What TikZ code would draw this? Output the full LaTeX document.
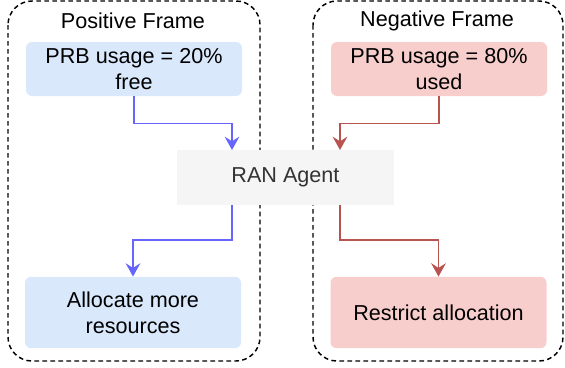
\documentclass[tikz,border=0pt]{standalone}
\usepackage{fontspec}
\setmainfont{Liberation Sans}
\usetikzlibrary{arrows.meta}
\definecolor{posfill}{HTML}{DAE8FC}
\definecolor{negfill}{HTML}{F8CECC}
\definecolor{agentfill}{HTML}{F5F5F5}
\definecolor{agenttext}{HTML}{333333}
\definecolor{posline}{HTML}{6666FF}
\definecolor{negline}{HTML}{B85450}
\begin{document}
\begin{tikzpicture}[x=0.75pt,y=-0.75pt,
	every node/.style={font=\fontsize{16.2}{19.5}\selectfont},
	frame/.style={dash pattern=on 3.5pt off 2.5pt,line width=1.1pt,rounded corners=18pt},
	box/.style={rounded corners=4.5pt,minimum width=162pt,minimum height=40.5pt,inner sep=0pt,align=center},
	posline/.style={draw=posline,fill=posline,line width=1.1pt,-{Stealth[length=10pt,width=11pt,inset=3.5pt]}},
	negline/.style={draw=negline,fill=negline,line width=1.1pt,-{Stealth[length=10pt,width=11pt,inset=3.5pt]}}]
	\useasboundingbox (0,0) rectangle (565,368);
	% dashed frames
	\draw[frame] (8,1) rectangle (260,361);
	\draw[frame] (313,1) rectangle (563,361);
	\node[] at (133,21) (pos_title) {Positive Frame};
	\node[] at (437,21) (neg_title) {Negative Frame};
	% observations
	\node[box,fill=posfill] at (134,69) (freebox) {PRB usage = 20\%\\free};
	\node[box,fill=negfill] at (439,69) (usedbox) {PRB usage = 80\%\\used};
	% agent
	\node[box,fill=agentfill,text=agenttext,rounded corners=0pt,minimum width=163pt,minimum height=41pt] at (285.5,177.5) (agent) {RAN Agent};
	\coordinate (pos_in) at (232,150);
	\coordinate (neg_in) at (340,150);
	\coordinate (pos_out) at (232,205);
	\coordinate (neg_out) at (340,205);
	% actions
	\node[box,fill=posfill,minimum height=53.5pt] at (133,312.5) (morebox) {Allocate more\\resources};
	\node[box,fill=negfill,minimum height=53.5pt] at (438.5,312.5) (restrictbox) {Restrict allocation};
	% connectors
	\draw[posline,fill=none] (freebox.south) -- ++(0,27) -| (pos_in);
	\draw[negline,fill=none] (usedbox.south) -- ++(0,27) -| (neg_in);
	\draw[posline,fill=none] (pos_out) -- ++(0,35) -| (morebox.north);
	\draw[negline,fill=none] (neg_out) -- ++(0,35) -| (restrictbox.north);
\end{tikzpicture}
\end{document}
